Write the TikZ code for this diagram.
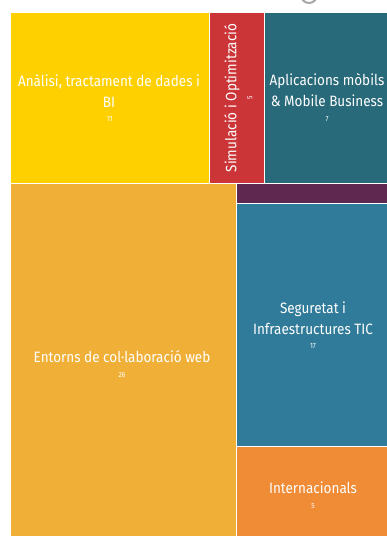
\documentclass[tikz,border=0pt]{standalone}
\usepackage{fontspec}
\setmainfont[FakeStretch=0.9]{Fira Sans}
\definecolor{gold}{HTML}{FFD000}
\definecolor{brick}{HTML}{CB3538}
\definecolor{petrol}{HTML}{28697A}
\definecolor{amber}{HTML}{F0AF36}
\definecolor{plum}{HTML}{5E2850}
\definecolor{ocean}{HTML}{307B99}
\definecolor{tangerine}{HTML}{F08B36}
\begin{document}
\begin{tikzpicture}[
x=1pt,y=-1pt,
cell/.style={draw=white,line width=0.8pt},
areaname/.style={text=white,align=center,inner sep=0pt,font=\fontsize{15}{21}\selectfont},
areanum/.style={text=white,inner sep=0pt,font=\fontsize{7.5}{8}\selectfont},
]
\useasboundingbox[fill=white] (0,0) rectangle (387,536);
% cut-off logo at the top
\begin{scope}
\clip (0,0) rectangle (387,12);
\draw[gray!70,line width=2pt] (309,-5) circle (8);
\end{scope}
\path[cell,fill=gold] (10,12) rectangle (209,183);
\path[cell,fill=brick] (209,12) rectangle (264,183);
\path[cell,fill=petrol] (264,12) rectangle (387,183);
\path[cell,fill=amber] (10,183) rectangle (236,536);
\path[cell,fill=plum] (236,183) rectangle (387,203);
\path[cell,fill=ocean] (236,203) rectangle (387,446);
\path[cell,fill=tangerine] (236,446) rectangle (387,536);
% area names and counts
\node[areaname] (bi) at (109,91) {Anàlisi, tractament de dades i\\BI};
\node[areanum] (bin) at (110,119) {11};
\node[areaname,rotate=90] (sim) at (232,98) {Simulació i Optimització};
\node[areanum,rotate=90] (simn) at (250,98) {5};
\node[areaname] (mob) at (327,90) {Aplicacions mòbils\\\& Mobile Business};
\node[areanum] (mobn) at (327,119) {7};
\node[areaname] (web) at (122,357) {Entorns de col·laboració web};
\node[areanum] (webn) at (122,375) {26};
\node[areaname] (sec) at (313,318) {Seguretat i\\Infraestructures TIC};
\node[areanum] (secn) at (313,346) {17};
\node[areaname] (int) at (313,488) {Internacionals};
\node[areanum] (intn) at (313,506) {5};
\end{tikzpicture}
\end{document}
